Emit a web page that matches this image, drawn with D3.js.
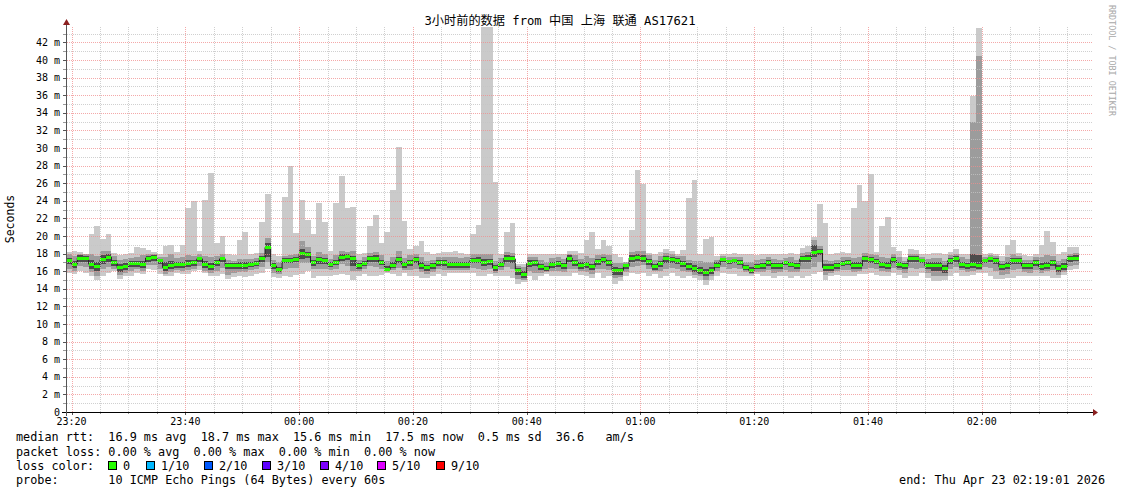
<!DOCTYPE html>
<html><head><meta charset="utf-8">
<script src="https://cdn.jsdelivr.net/npm/d3@7"></script>
<style>
html,body{margin:0;padding:0;background:#fff;}
svg{display:block;}
text{font-family:"DejaVu Sans Mono","Noto Sans CJK SC",monospace;white-space:pre;}
</style></head><body>
<svg id="chart" width="1121" height="494"></svg>
<script>
// ---- time frame ----
const startTime = new Date(2026, 3, 22, 23, 19, 1);
const endTime = new Date(2026, 3, 23, 2, 19, 1);
const firstColumn = new Date(2026, 3, 22, 23, 19, 0); // one column per minute (60s step)

// ---- data (ms), one value per minute column ----
const medianRtt = [
17.2,16.8,17.5,17.4,16.8,16.5,17.3,17.6,17.0,16.4,
16.5,16.9,16.9,16.8,17.5,17.6,17.2,16.4,16.7,16.8,
16.8,16.9,17.0,17.4,16.8,16.5,17.0,17.4,16.6,16.6,
16.7,16.7,16.8,16.9,17.5,18.7,16.6,16.2,17.2,17.2,
17.3,18.0,17.9,17.0,17.3,17.2,16.8,17.0,17.6,17.7,
17.4,16.6,16.9,17.4,17.5,17.0,16.2,16.7,17.3,16.8,
17.0,17.3,16.7,16.4,16.6,17.0,17.0,16.8,16.8,16.8,
16.8,17.2,17.25,17.0,17.1,16.4,16.8,17.5,17.4,16.1,
15.6,16.9,17.0,16.5,16.3,16.8,16.9,16.6,17.5,17.0,
16.7,16.8,16.5,17.1,17.3,17.0,16.1,16.1,16.6,17.5,
17.6,17.5,17.1,16.5,16.9,17.4,17.3,17.2,16.9,16.5,
16.3,16.1,15.9,16.1,16.7,17.3,17.1,17.2,17.0,16.4,
16.1,16.5,16.6,17.0,16.6,16.6,17.0,16.8,16.6,17.4,
17.4,18.1,18.2,16.4,16.4,16.6,16.9,17.0,16.6,16.6,
17.4,17.3,17.1,16.8,16.6,17.3,16.8,16.6,17.4,17.4,
17.2,16.6,16.6,16.7,16.3,17.2,17.4,16.8,16.6,16.8,
16.6,17.2,17.4,17.2,16.5,16.7,17.2,17.2,16.6,16.6,
17.0,16.5,16.7,17.0,16.3,16.5,17.4,17.5];

const pingMax = [
18.2,18.3,18.2,18.0,20.2,21.1,19.7,20.2,18.1,17.8,
18.0,18.1,18.7,18.6,18.4,18.2,17.9,18.9,19.0,18.2,
19.0,23.2,24.0,18.3,24.1,27.2,19.2,20.0,18.0,17.8,
19.6,20.5,18.0,18.1,21.6,24.8,17.9,17.7,24.4,28.0,
20.3,24.1,21.8,20.2,23.8,21.6,18.3,23.7,26.8,23.2,
23.3,17.9,18.1,21.1,22.4,19.2,20.5,25.2,30.1,21.7,
18.5,18.9,19.4,18.2,18.0,18.1,18.2,18.2,18.3,18.1,
18.0,20.2,21.3,48.0,46.0,26.1,18.0,20.5,21.5,16.8,
16.8,18.0,18.0,18.0,17.9,18.0,18.0,18.0,18.3,18.3,
18.1,19.6,20.4,18.5,19.5,18.9,17.9,17.6,17.0,20.7,
27.5,25.9,18.1,18.0,18.2,18.5,18.3,18.0,18.4,24.3,
26.4,18.0,19.7,19.9,17.7,18.0,18.0,18.1,18.0,17.9,
17.9,17.8,17.9,18.0,18.0,17.9,17.9,18.1,18.0,18.6,
18.9,19.9,23.6,21.5,18.0,18.1,18.2,18.1,23.2,25.8,
24.0,27.1,18.2,21.1,22.2,18.7,18.3,17.6,18.5,18.4,
17.9,18.0,18.1,18.1,18.0,18.2,18.5,18.0,17.9,35.9,
43.6,17.9,18.1,17.9,17.7,19.0,19.6,18.1,17.8,17.7,
18.0,19.0,20.6,19.3,18.0,18.2,18.7,18.7];

const pingMin = [
15.8,15.7,16.0,15.8,15.4,15.0,15.4,15.8,16.0,15.1,
15.5,15.5,15.8,15.7,16.2,16.1,15.7,15.4,15.4,15.8,
15.7,15.7,16.0,16.1,15.8,15.4,15.4,15.7,15.1,15.3,
15.5,15.3,15.5,15.7,15.8,16.2,15.3,15.2,15.4,15.3,
15.6,15.7,16.0,15.2,15.5,15.4,15.4,15.6,15.7,15.6,
15.0,15.4,15.7,15.4,15.4,15.6,15.8,15.7,15.4,15.8,
15.4,15.4,15.2,15.2,15.4,15.7,15.4,15.8,15.8,15.8,
15.8,15.8,15.5,15.4,15.7,15.4,15.5,15.4,15.2,14.5,
14.8,15.4,15.0,15.4,15.7,15.4,15.4,15.5,15.4,15.8,
15.6,15.4,15.2,15.8,15.2,15.4,14.5,14.9,15.5,15.8,
15.7,15.8,15.5,15.7,15.2,15.4,15.8,15.4,15.2,15.4,
15.2,15.0,14.4,15.0,15.4,15.8,15.7,15.7,15.4,15.4,
15.4,15.7,15.4,15.4,15.2,15.4,15.4,15.2,15.4,15.2,
15.4,15.7,15.9,15.0,15.4,15.6,15.4,15.5,15.5,15.7,
15.7,15.8,15.6,15.5,15.4,15.8,15.6,15.2,15.5,15.5,
15.8,15.2,14.9,14.9,15.0,15.4,15.8,15.5,15.4,15.6,
15.8,15.8,15.4,15.1,15.1,15.2,15.2,15.4,15.5,15.4,
15.4,15.5,15.4,15.2,15.2,15.6,16.1,16.2];

const band2Hi = [
17.9,17.7,18.0,17.9,17.9,17.7,18.3,18.3,17.7,17.3,
17.4,17.5,17.6,17.8,17.9,18.0,17.6,17.6,17.9,17.5,
17.6,17.8,17.7,17.9,17.7,17.6,17.7,17.9,17.3,17.2,
17.4,17.4,17.4,17.5,18.1,19.8,17.3,17.0,17.7,17.8,
17.9,19.4,18.8,17.7,18.2,17.9,17.4,17.8,18.3,18.2,
18.3,17.3,17.6,18.1,18.2,17.8,17.2,17.6,18.3,17.5,
17.8,18.0,17.6,17.2,17.3,17.6,17.6,17.6,17.6,17.5,
17.6,17.9,18.0,17.9,17.9,17.2,17.5,18.2,18.1,16.6,
16.5,17.6,17.6,17.3,17.1,17.5,17.6,17.4,18.0,17.8,
17.4,17.7,17.5,17.8,18.0,17.8,16.9,16.9,17.0,18.2,
18.3,18.3,17.8,17.3,17.7,18.1,17.9,17.7,17.7,17.3,
17.2,17.2,17.0,17.1,17.3,17.7,17.6,17.6,17.6,17.1,
17.0,17.3,17.4,17.6,17.4,17.3,17.5,17.6,17.3,18.1,
18.2,19.6,18.9,17.3,17.2,17.3,17.6,17.6,17.5,17.6,
18.1,18.0,17.8,17.6,17.5,17.9,17.6,17.2,18.0,17.9,
17.6,17.4,17.5,17.5,17.2,17.8,17.9,17.6,17.4,33.0,
40.4,17.6,17.8,17.7,17.2,17.6,17.9,17.7,17.3,17.3,
17.6,17.6,17.8,17.7,17.2,17.4,18.0,18.1];

const band2Lo = [
16.3,16.0,16.6,16.5,15.9,15.5,16.2,16.5,16.3,15.6,
15.8,16.0,16.2,16.0,16.7,16.7,16.3,15.7,15.9,16.1,
16.0,16.1,16.3,16.6,16.0,15.8,16.0,16.4,15.6,15.8,
15.9,15.9,16.1,16.3,16.5,17.0,15.8,15.7,16.3,16.4,
16.4,16.9,16.9,16.2,16.3,16.3,16.1,16.3,16.8,16.6,
16.0,16.0,16.3,16.6,16.5,16.3,15.9,16.1,16.4,16.1,
16.1,16.3,15.9,15.7,15.9,16.2,16.1,16.1,16.1,16.1,
16.1,16.4,16.3,16.1,16.2,15.8,16.1,16.5,16.2,15.1,
15.0,16.0,15.8,15.8,15.9,16.0,16.0,15.9,16.3,16.2,
16.0,15.9,15.7,16.3,16.2,16.1,15.2,15.3,15.9,16.5,
16.6,16.7,16.3,16.0,16.0,16.3,16.4,16.2,16.0,15.9,
15.6,15.4,15.0,15.4,16.0,16.5,16.3,16.4,16.2,15.9,
15.7,15.9,15.9,16.1,15.8,15.9,16.1,15.9,15.9,16.3,
16.3,16.5,17.0,15.6,15.8,16.0,16.1,16.1,15.9,16.0,
16.3,16.4,16.3,16.0,15.9,16.4,16.1,15.8,16.4,16.3,
16.4,15.8,15.5,15.5,15.5,16.2,16.5,16.1,15.9,16.0,
16.1,16.5,16.4,16.0,15.6,15.7,16.1,16.2,15.9,15.8,
16.1,15.8,16.0,16.1,15.6,15.9,16.6,16.7];

const band3Hi = [
17.5,17.2,17.8,17.7,17.3,17.1,17.8,17.9,17.3,16.8,
16.9,17.2,17.2,17.2,17.7,17.8,17.4,17.0,17.2,17.1,
17.1,17.3,17.3,17.6,17.2,16.9,17.3,17.6,16.9,16.9,
17.0,17.0,17.1,17.2,17.7,19.2,16.9,16.5,17.5,17.5,
17.6,18.5,18.2,17.3,17.6,17.5,17.1,17.3,17.9,18.0,
17.7,16.9,17.2,17.7,17.8,17.3,16.6,17.0,17.6,17.1,
17.3,17.6,17.0,16.7,16.9,17.3,17.3,17.1,17.1,17.1,
17.1,17.5,17.6,17.4,17.4,16.7,17.1,17.8,17.7,16.4,
16.0,17.3,17.3,16.8,16.6,17.1,17.2,16.9,17.8,17.3,
17.0,17.1,16.8,17.4,17.6,17.3,16.5,16.4,16.8,17.8,
17.9,17.8,17.4,16.8,17.2,17.7,17.6,17.5,17.2,16.9,
16.7,16.5,16.3,16.5,17.0,17.5,17.3,17.4,17.3,16.7,
16.5,16.8,16.9,17.3,16.9,16.9,17.2,17.1,16.9,17.7,
17.8,19.0,18.5,16.8,16.8,16.9,17.2,17.3,17.0,17.0,
17.7,17.6,17.4,17.1,17.0,17.6,17.1,16.9,17.7,17.7,
17.4,17.0,17.0,17.1,16.7,17.5,17.7,17.1,16.9,17.9,
17.8,17.4,17.6,17.5,16.8,17.0,17.5,17.5,16.9,16.9,
17.3,16.9,17.1,17.3,16.7,16.9,17.7,17.8];

const band3Lo = [
16.8,16.4,17.0,17.0,16.3,16.0,16.8,17.1,16.6,15.9,
16.1,16.5,16.5,16.4,17.1,17.2,16.8,16.0,16.3,16.4,
16.4,16.5,16.6,17.0,16.4,16.1,16.6,17.0,16.2,16.2,
16.3,16.3,16.5,16.6,17.0,17.6,16.2,15.9,16.9,16.9,
17.0,17.4,17.5,16.6,16.8,16.8,16.5,16.7,17.2,17.3,
16.6,16.3,16.6,17.1,17.1,16.7,16.0,16.4,16.9,16.4,
16.6,16.9,16.3,16.0,16.2,16.6,16.6,16.4,16.4,16.4,
16.4,16.9,16.9,16.6,16.7,16.0,16.5,17.1,16.9,15.6,
15.2,16.5,16.6,16.1,16.0,16.4,16.5,16.2,17.0,16.6,
16.3,16.4,16.1,16.7,16.9,16.6,15.6,15.6,16.3,17.1,
17.2,17.1,16.7,16.1,16.5,16.9,16.9,16.8,16.5,16.1,
15.9,15.7,15.5,15.7,16.4,17.0,16.8,16.9,16.7,16.1,
15.8,16.2,16.2,16.6,16.2,16.3,16.7,16.5,16.3,17.0,
17.0,17.6,17.8,16.0,16.0,16.3,16.6,16.7,16.2,16.2,
17.0,16.9,16.8,16.4,16.2,16.9,16.4,16.2,17.0,17.0,
16.9,16.2,16.0,16.0,15.8,16.8,17.0,16.4,16.2,16.4,
16.3,16.9,17.1,16.8,16.1,16.3,16.8,16.8,16.3,16.2,
16.6,16.1,16.3,16.6,15.9,16.1,17.1,17.2];

// ---- axes / labels ----
const yTickValues = [0,2,4,6,8,10,12,14,16,18,20,22,24,26,28,30,32,34,36,38,40,42];
const xTickLabels = ["23:20","23:40","00:00","00:20","00:40","01:00","01:20","01:40","02:00"];
const lossLabels = ["0","1/10","2/10","3/10","4/10","5/10","9/10"];
const lossColors = ["#26ff00","#00b8ff","#0059ff","#5e00ff","#7e00ff","#dd00ff","#ff0000"];
const titleText = "3小时前的数据 from 中国 上海 联通 AS17621";
const legendRows = [
  "median rtt:  16.9 ms avg  18.7 ms max  15.6 ms min  17.5 ms now  0.5 ms sd  36.6   am/s",
  "packet loss: 0.00 % avg  0.00 % max  0.00 % min  0.00 % now",
  "loss color:",
  "probe:       10 ICMP Echo Pings (64 Bytes) every 60s"
];
const endText = "end: Thu Apr 23 02:19:01 2026";

// ---- drawing ----
const svg = d3.select("#chart");
const L = 66, R = 1090, T = 27, B = 412;
const x = d3.scaleTime().domain([startTime, endTime]).range([L, R]);
const y = d3.scaleLinear().domain([0, 43.75]).range([B, T]);

const cols = medianRtt.map((m, k) => ({
  t: new Date(+firstColumn + k * 60000),
  med: m, mx: pingMax[k], mn: pingMin[k],
  h2: band2Hi[k], l2: band2Lo[k], h3: band3Hi[k], l3: band3Lo[k]
}));
const last = cols[cols.length - 1];
const pts = cols.concat([Object.assign({}, last, {t: new Date(+last.t + 60000)})]);

svg.append("defs").append("clipPath").attr("id","plot")
  .append("rect").attr("x", L + 0.5).attr("y", T).attr("width", R - L).attr("height", B - T);

const g = svg.append("g").attr("clip-path","url(#plot)");
function band(lo, hi, color) {
  g.append("path").datum(pts)
    .attr("d", d3.area().curve(d3.curveStepAfter)
      .x(d => x(d.t)).y0(d => y(lo(d))).y1(d => y(hi(d))))
    .attr("fill", color).attr("shape-rendering","crispEdges");
}
band(d => d.mn, d => d.mx, "#cacaca");
band(d => d.l2, d => d.h2, "#9c9c9c");
band(d => d.l3, d => d.h3, "#4c4c4c");

// median: thin dark step line + loss-coloured bars
g.append("path").datum(pts)
  .attr("d", d3.line().curve(d3.curveStepAfter).x(d => x(d.t)).y(d => y(d.med)))
  .attr("fill","none").attr("stroke","#202020").attr("stroke-width",1);
g.append("path").datum(pts)
  .attr("d", d3.area().curve(d3.curveStepAfter)
    .x(d => x(d.t)).y0(d => y(d.med) + 1.5).y1(d => y(d.med) - 1.5))
  .attr("fill", lossColors[0]).attr("shape-rendering","crispEdges");

// grid (drawn over the data, as rrdtool does)
const grid = svg.append("g");
for (let v = 1; v <= 43; v++) {
  const yy = Math.round(y(v)) + 0.5;
  grid.append("line").attr("x1", L + 1).attr("x2", 1093).attr("y1", yy).attr("y2", yy)
    .attr("stroke", v % 2 === 0 ? "#f08c8c" : "#c4c4c4").attr("stroke-opacity", v % 2 === 0 ? 0.75 : 0.8)
    .attr("stroke-dasharray","1,1");
  grid.append("line").attr("x1", L - 3).attr("x2", L).attr("y1", yy).attr("y2", yy)
    .attr("stroke", v % 2 === 0 ? "#555" : "#999");
}
const gridStart = new Date(2026, 3, 22, 23, 20, 0);
const vTicks = d3.timeMinute.every(5).range(gridStart, endTime);
vTicks.forEach(t => {
  const xx = Math.round(x(t)) + 0.5;
  const major = t.getMinutes() % 20 === 0;
  grid.append("line").attr("x1", xx).attr("x2", xx).attr("y1", T).attr("y2", B)
    .attr("stroke", major ? "#f08c8c" : "#c4c4c4").attr("stroke-opacity", major ? 0.75 : 0.8)
    .attr("stroke-dasharray","1,1");
  grid.append("line").attr("x1", xx).attr("x2", xx).attr("y1", B).attr("y2", B + (major ? 3 : 2))
    .attr("stroke", major ? "#555" : "#999");
});

// axes
svg.append("line").attr("x1", 62).attr("x2", 1093).attr("y1", B + 0.5).attr("y2", B + 0.5).attr("stroke", "#000");
svg.append("line").attr("x1", L + 0.5).attr("x2", L + 0.5).attr("y1", B + 4).attr("y2", 24).attr("stroke", "#555");
svg.append("path").attr("d", `M1093,${B-3} L1098,${B+0.5} L1093,${B+4} Z`).attr("fill", "#8b2020");
svg.append("path").attr("d", `M${L-3},25 L${L+0.5},19 L${L+4},25 Z`).attr("fill", "#8b2020");

// y tick labels
svg.append("g").selectAll("text").data(yTickValues).join("text")
  .attr("x", 60).attr("y", d => y(d) + 3.5).attr("text-anchor","end")
  .attr("font-size", 10).attr("fill","#000")
  .text(d => d === 0 ? "0" : d + " m");

// x tick labels
const xLabelTimes = d3.timeMinute.every(20).range(gridStart, endTime);
svg.append("g").selectAll("text").data(xTickLabels).join("text")
  .attr("x", (d, i) => x(xLabelTimes[i])).attr("y", 425).attr("text-anchor","middle")
  .attr("font-size", 10).attr("fill","#000").text(d => d);

// title
svg.append("text").attr("x", 560).attr("y", 25).attr("text-anchor","middle")
  .attr("font-size", 12.2).attr("fill","#000").text(titleText);

// y axis title
svg.append("text").attr("transform","translate(14,219) rotate(-90)").attr("text-anchor","middle")
  .attr("font-size", 11.5).attr("fill","#000").text("Seconds");

// watermark
svg.append("text").attr("transform","translate(1108.5,5) rotate(90)")
  .attr("font-size", 8.4).attr("fill","#a8a8a8").text("RRDTOOL / TOBI OETIKER");

// legend
const rowY = [441, 456, 470, 484];
legendRows.forEach((s, i) => {
  svg.append("text").attr("x", 16).attr("y", rowY[i]).attr("font-size", 11.8).attr("fill","#000").text(s);
});
const boxX = [108, 146, 204, 262, 320, 377, 436];
lossLabels.forEach((lab, i) => {
  svg.append("rect").attr("x", boxX[i] + 0.5).attr("y", 461.5).attr("width", 8).attr("height", 8)
    .attr("fill", lossColors[i]).attr("stroke", "#000");
  svg.append("text").attr("x", boxX[i] + 15).attr("y", rowY[2]).attr("font-size", 11.8).attr("fill","#000").text(lab);
});
svg.append("text").attr("x", 1105).attr("y", rowY[3]).attr("text-anchor","end")
  .attr("font-size", 11.8).attr("fill","#000").text(endText);
</script>
</body></html>
